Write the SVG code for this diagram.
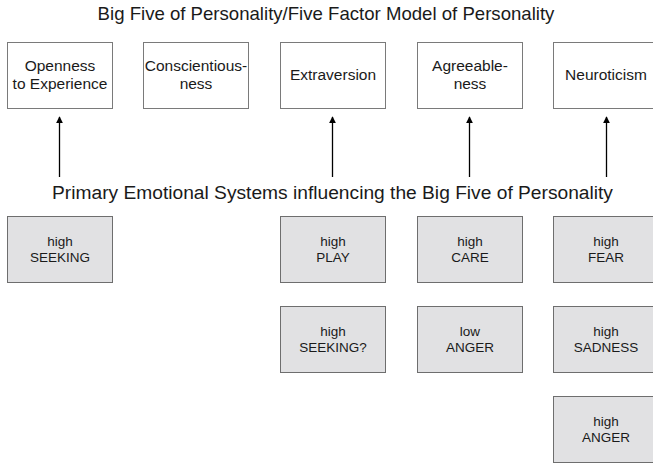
<svg xmlns="http://www.w3.org/2000/svg" width="653" height="465" viewBox="0 0 653 465">
<style>
text{font-family:"Liberation Sans",Arial,sans-serif;fill:#1a1a1a;text-anchor:middle}
.t{font-size:18.6px}
.u{font-size:19.2px}
.b{font-size:15.5px}
.s{font-size:13.5px}
.trait rect{fill:#fff;stroke:#7a7a7a;stroke-width:1}
.sys rect{fill:#e1e1e3;stroke:#6e6e6e;stroke-width:1}
.arr{stroke:#000;stroke-width:1.3;fill:none;marker-end:url(#ah)}
</style>
<defs>
<marker id="ah" viewBox="0 0 10 10" refX="9" refY="5" markerUnits="userSpaceOnUse" markerWidth="7" markerHeight="8" orient="auto">
<path d="M0,0 L10,5 L0,10 z" fill="#000"/>
</marker>
</defs>
<text class="t" x="326" y="20">Big Five of Personality/Five Factor Model of Personality</text>
<text class="u" x="332.5" y="199">Primary Emotional Systems influencing the Big Five of Personality</text>

<g id="openness" class="trait"><rect x="7.5" y="42.5" width="105" height="66"/><text class="b" x="60" y="71">Openness</text><text class="b" x="60" y="89">to Experience</text></g>
<g id="conscientiousness" class="trait"><rect x="143.5" y="42.5" width="105" height="66"/><text class="b" x="196" y="71">Conscientious-</text><text class="b" x="196" y="89">ness</text></g>
<g id="extraversion" class="trait"><rect x="280.5" y="42.5" width="105" height="66"/><text class="b" x="333" y="80">Extraversion</text></g>
<g id="agreeableness" class="trait"><rect x="417.5" y="42.5" width="105" height="66"/><text class="b" x="470" y="71">Agreeable-</text><text class="b" x="470" y="89">ness</text></g>
<g id="neuroticism" class="trait"><rect x="553.5" y="42.5" width="105" height="66"/><text class="b" x="606" y="80">Neuroticism</text></g>

<g id="seeking" class="sys"><rect x="7.5" y="216.5" width="105" height="66"/><text class="s" x="60" y="246">high</text><text class="s" x="60" y="262">SEEKING</text></g>
<g id="play" class="sys"><rect x="280.5" y="216.5" width="105" height="66"/><text class="s" x="333" y="246">high</text><text class="s" x="333" y="262">PLAY</text></g>
<g id="care" class="sys"><rect x="417.5" y="216.5" width="105" height="66"/><text class="s" x="470" y="246">high</text><text class="s" x="470" y="262">CARE</text></g>
<g id="fear" class="sys"><rect x="553.5" y="216.5" width="105" height="66"/><text class="s" x="606" y="246">high</text><text class="s" x="606" y="262">FEAR</text></g>
<g id="seeking2" class="sys"><rect x="280.5" y="306.5" width="105" height="66"/><text class="s" x="333" y="336">high</text><text class="s" x="333" y="352">SEEKING?</text></g>
<g id="lowanger" class="sys"><rect x="417.5" y="306.5" width="105" height="66"/><text class="s" x="470" y="336">low</text><text class="s" x="470" y="352">ANGER</text></g>
<g id="sadness" class="sys"><rect x="553.5" y="306.5" width="105" height="66"/><text class="s" x="606" y="336">high</text><text class="s" x="606" y="352">SADNESS</text></g>
<g id="highanger" class="sys"><rect x="553.5" y="396.5" width="105" height="66"/><text class="s" x="606" y="426">high</text><text class="s" x="606" y="442">ANGER</text></g>

<g id="connectors">
<line class="arr" x1="59.5" y1="177" x2="59.5" y2="117"/>
<line class="arr" x1="332.5" y1="177" x2="332.5" y2="117"/>
<line class="arr" x1="469.5" y1="177" x2="469.5" y2="117"/>
<line class="arr" x1="606.5" y1="177" x2="606.5" y2="117"/>
</g>
</svg>
